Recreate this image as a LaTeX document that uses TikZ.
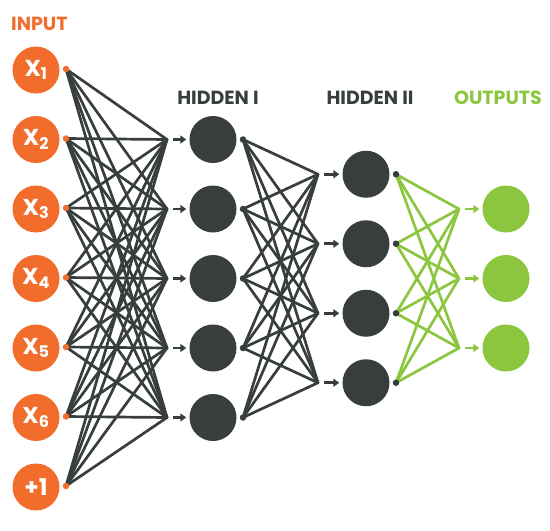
\documentclass[tikz,border=0pt]{standalone}
\usepackage{fontspec}
\setmainfont{Poppins}
\usetikzlibrary{arrows.meta,calc}
\definecolor{orng}{HTML}{F26C2B}
\definecolor{dgray}{HTML}{383E3E}
\definecolor{grn}{HTML}{8CC63F}
\tikzset{
  neuron/.style={circle,minimum size=47pt,inner sep=0pt},
  inp/.style={neuron,fill=orng,text=white,font=\bfseries\fontsize{23}{23}\selectfont},
  hid/.style={neuron,fill=dgray},
  outn/.style={neuron,fill=grn},
  dotn/.style={circle,inner sep=0pt,minimum size=6.5pt},
  wire/.style={line width=2.7pt,line cap=round},
  arr/.style={line width=2.7pt,-{Triangle[length=6pt,width=8pt]},shorten <=6pt,shorten >=3pt},
  head/.style={font=\bfseries\fontsize{19}{19}\selectfont,inner sep=0pt}
}
\begin{document}
\begin{tikzpicture}[x=1pt,y=-1pt]
\useasboundingbox (0,0) rectangle (550,531);
% headers
\node[head,text=orng,anchor=west] (tin) at (11,24) {INPUT};
\node[head,text=dgray] (th1) at (218,98) {HIDDEN I};
\node[head,text=dgray] (th2) at (370,98) {HIDDEN II};
\node[head,text=grn] (tout) at (498,98) {OUTPUTS};
% input neurons
\foreach \i/\lab in {1/{X\textsubscript{1}},2/{X\textsubscript{2}},3/{X\textsubscript{3}},4/{X\textsubscript{4}},5/{X\textsubscript{5}},6/{X\textsubscript{6}},7/{+1}}{
  \pgfmathsetmacro{\yy}{70+69.5*(\i-1)}
  \node[inp] (in\i) at (36,\yy) {\lab};
  \coordinate (id\i) at (66,\yy-1);
}
% hidden I
\foreach \j in {1,...,5}{
  \pgfmathsetmacro{\yy}{70+69.5*\j}
  \coordinate (ca\j) at (167,\yy);
  \node[hid] (ha\j) at (213,\yy) {};
  \coordinate (hd\j) at (243,\yy);
}
% hidden II
\foreach \k in {1,...,4}{
  \pgfmathsetmacro{\yy}{70+69.5*(\k+0.5)}
  \coordinate (cb\k) at (318,\yy);
  \node[hid] (hb\k) at (366,\yy) {};
  \coordinate (hbd\k) at (396,\yy);
}
% outputs
\foreach \m in {1,...,3}{
  \pgfmathsetmacro{\yy}{70+69.5*(\m+1)}
  \coordinate (co\m) at (459,\yy);
  \node[outn] (on\m) at (506,\yy) {};
}
% wires
\foreach \i in {1,...,7}{\foreach \j in {1,...,5}{\draw[wire,dgray] (id\i) -- (ca\j);}}
\foreach \j in {1,...,5}{\foreach \k in {1,...,4}{\draw[wire,dgray] (hd\j) -- (cb\k);}}
\foreach \k in {1,...,4}{\foreach \m in {1,...,3}{\draw[wire,grn] (hbd\k) -- (co\m);}}
% arrows
\foreach \j in {1,...,5}{\draw[arr,dgray] (ca\j) -- (ha\j);}
\foreach \k in {1,...,4}{\draw[arr,dgray] (cb\k) -- (hb\k);}
\foreach \m in {1,...,3}{\draw[arr,grn] (co\m) -- (on\m);}
% dots
\foreach \i in {1,...,7}{\node[dotn,fill=orng] (idn\i) at (id\i) {};}
\foreach \j in {1,...,5}{\node[dotn,fill=dgray] (hdn\j) at (hd\j) {};}
\foreach \k in {1,...,4}{\node[dotn,fill=dgray] (hbdn\k) at (hbd\k) {};}
\end{tikzpicture}
\end{document}
